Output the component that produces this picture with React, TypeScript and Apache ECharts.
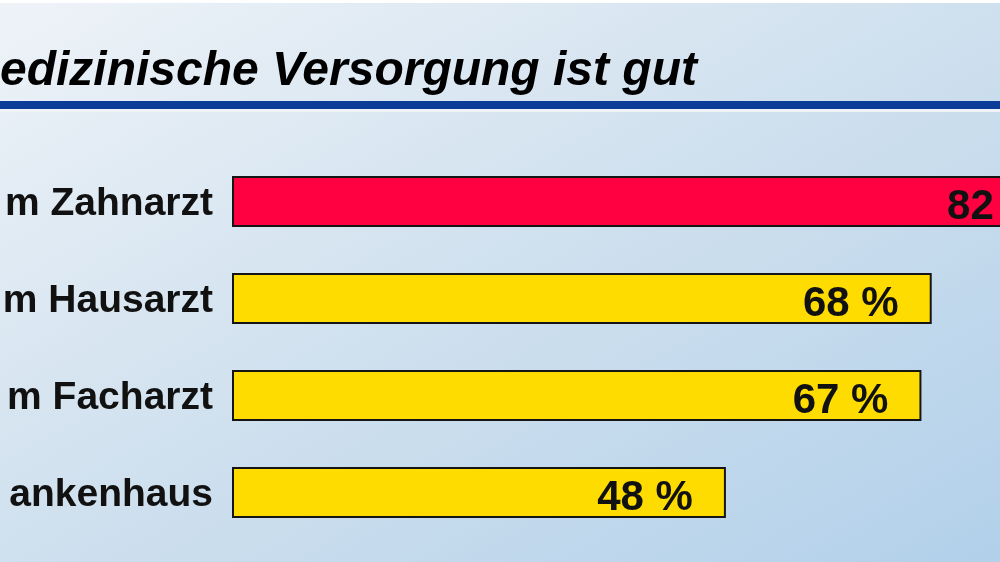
import React, { useEffect, useRef } from "react";
import * as echarts from "echarts";

const categories = ["m Zahnarzt", "m Hausarzt", "m Facharzt", "ankenhaus"];
const values = [82, 68, 67, 48];
const barColors = ["#ff0040", "#ffdc00", "#ffdc00", "#ffdc00"];
const titleText = "edizinische Versorgung ist gut";

export default function App() {
  const ref = useRef<HTMLDivElement>(null);
  useEffect(() => {
    if (!ref.current) return;
    const chart = echarts.init(ref.current, null, { renderer: "svg" });
    const font = "'Liberation Sans', Arial, Helvetica, sans-serif";
    chart.setOption({
      animation: false,
      graphic: [
        {
          type: "rect",
          z: -10,
          silent: true,
          shape: { x: 0, y: 0, width: 1000, height: 562 },
          style: {
            fill: new echarts.graphic.LinearGradient(0, 0, 1, 1, [
              { offset: 0, color: "#eef3f8" },
              { offset: 0.5, color: "#cfe0ee" },
              { offset: 1, color: "#b2d0ea" },
            ]),
          },
        },
        {
          type: "rect",
          z: -9,
          silent: true,
          shape: { x: 0, y: 0, width: 1000, height: 3 },
          style: { fill: "#ffffff" },
        },
        {
          type: "rect",
          z: -8,
          silent: true,
          shape: { x: 0, y: 109, width: 1000, height: 3 },
          style: { fill: "#eef4fa" },
        },
        {
          type: "rect",
          z: -8,
          silent: true,
          shape: { x: 0, y: 101, width: 1000, height: 8 },
          style: { fill: "#0a3c98" },
        },
        {
          type: "text",
          left: 0,
          top: 44,
          style: {
            text: titleText,
            fill: "#000000",
            font: `italic bold 48px ${font}`,
          },
        },
      ],
      grid: {
        left: 232,
        right: -261,
        top: 153,
        bottom: 21,
        containLabel: false,
        outerBoundsMode: "none",
      },
      xAxis: {
        type: "value",
        min: 0,
        max: 100,
        show: false,
      },
      yAxis: {
        type: "category",
        data: categories,
        inverse: true,
        axisLine: { show: false },
        axisTick: { show: false },
        splitLine: { show: false },
        axisLabel: {
          margin: 19,
          color: "#111111",
          fontFamily: font,
          fontWeight: "bold",
          fontSize: 39,
        },
      },
      series: [
        {
          type: "bar",
          data: values.map((v, i) => ({ value: v, itemStyle: { color: barColors[i] } })),
          barWidth: 51,
          itemStyle: { borderColor: "#151515", borderWidth: 2 },
          clip: false,
          label: {
            show: true,
            position: "insideRight",
            distance: 33,
            offset: [0, 3],
            formatter: "{c} %",
            color: "#111111",
            fontFamily: font,
            fontWeight: "bold",
            fontSize: 42,
          },
        },
      ],
    });
    return () => chart.dispose();
  }, []);
  return (
    <div
      ref={ref}
      style={{ position: "fixed", left: 0, top: 0, width: 1000, height: 562 }}
    />
  );
}
